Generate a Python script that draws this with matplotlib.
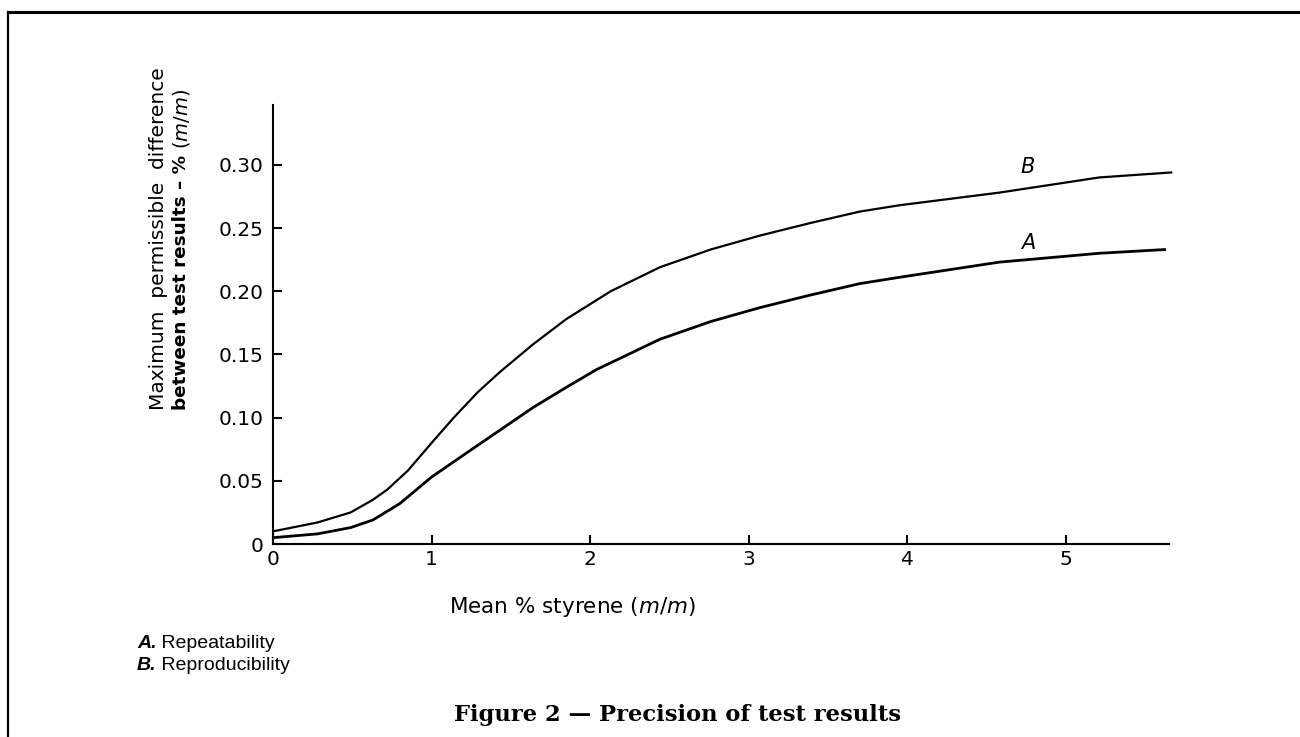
import matplotlib
matplotlib.use("Agg")
import matplotlib.pyplot as plt
from matplotlib.lines import Line2D

# ---- data ----
B_x = [0, 0.28, 0.49, 0.63, 0.72, 0.85, 1.0, 1.14, 1.29, 1.43, 1.64, 1.85, 2.13,
       2.44, 2.76, 3.07, 3.39, 3.70, 3.95, 4.58, 5.21, 5.67]
B_y = [0.010, 0.017, 0.025, 0.035, 0.043, 0.058, 0.080, 0.100, 0.120, 0.136, 0.158,
       0.178, 0.200, 0.219, 0.233, 0.244, 0.254, 0.263, 0.268, 0.278, 0.290, 0.294]
A_x = [0, 0.28, 0.49, 0.63, 0.80, 1.0, 1.22, 1.43, 1.64, 1.85, 2.04, 2.44, 2.76,
       3.07, 3.39, 3.70, 3.95, 4.58, 5.21, 5.63]
A_y = [0.005, 0.008, 0.013, 0.019, 0.032, 0.053, 0.072, 0.090, 0.108, 0.124, 0.138,
       0.162, 0.176, 0.187, 0.197, 0.206, 0.211, 0.223, 0.230, 0.233]
x_ticks = [0, 1, 2, 3, 4, 5]
x_ticklabels = ["0", "1", "2", "3", "4", "5"]
y_ticks = [0, 0.05, 0.10, 0.15, 0.20, 0.25, 0.30]
y_ticklabels = ["0", "0.05", "0.10", "0.15", "0.20", "0.25", "0.30"]
curve_labels = ["A", "B"]
legend_items = [("A.", "Repeatability"), ("B.", "Reproducibility")]
x_label = r"Mean % styrene ($m$/$m$)"
y_label1 = "Maximum  permissible  difference"
y_label2_bold = "between test results \u2013 %"
y_label2_rest = r" ($m$/$m$)"
title = "Figure 2 \u2014 Precision of test results"

W, H = 1300, 737
fig = plt.figure(figsize=(W / 100, H / 100), dpi=100)

def fx(px):
    return px / W

def fy(py):
    return 1 - py / H

ax = fig.add_axes([fx(273), fy(544), fx(1169 - 273), (544 - 105) / H])
ax.plot(B_x, B_y, color="black", lw=1.6, clip_on=False, solid_capstyle="butt",
        solid_joinstyle="round")
ax.plot(A_x, A_y, color="black", lw=2.0, clip_on=False, solid_capstyle="butt",
        solid_joinstyle="round")
ax.set_xlim(0, (1169 - 273) / 158.6)
ax.set_ylim(0, (544 - 105) / 1264)

for s in ["top", "right"]:
    ax.spines[s].set_visible(False)
for s in ["left", "bottom"]:
    ax.spines[s].set_linewidth(1.5)

ax.set_xticks(x_ticks)
ax.set_xticklabels(x_ticklabels)
ax.set_yticks(y_ticks)
ax.set_yticklabels(y_ticklabels)
ax.tick_params(axis="both", direction="in", length=6.5, width=1.5, labelsize=14.5)
ax.tick_params(axis="x", pad=4)
ax.tick_params(axis="y", pad=7)

# curve labels
ax.text(4.76, 0.298, curve_labels[1], style="italic", fontsize=15, ha="center", va="center")
ax.text(4.76, 0.238, curve_labels[0], style="italic", fontsize=15, ha="center", va="center")

# x label
fig.text(fx(572), fy(607), x_label, fontsize=15.5, ha="center", va="center")

# y label (two lines, rotated)
fig.text(fx(158), fy(410), y_label1, fontsize=14.5, rotation=90, ha="center", va="bottom")
t2 = fig.text(fx(181), fy(410), y_label2_bold, fontsize=13.2, fontweight="bold",
              rotation=90, ha="center", va="bottom")
ax.annotate(y_label2_rest, xy=(0.5, 1.0), xycoords=t2, fontsize=14, rotation=90,
            ha="center", va="bottom", annotation_clip=False)

# legend-like notes
for i, (key, desc) in enumerate(legend_items):
    yk = fy(644 + 22 * i)
    tk = fig.text(fx(137), yk, key, fontsize=14, style="italic", fontweight="bold",
                  family="Liberation Sans", ha="left", va="center")
    ax.annotate(" " + desc, xy=(1.0, 0.5), xycoords=tk, fontsize=14,
                family="Liberation Sans", ha="left", va="center", annotation_clip=False)

# title
fig.text(fx(677), fy(715), title, fontsize=16.3, fontweight="bold", family="DejaVu Serif",
         ha="center", va="center")

# frame
fig.add_artist(Line2D([fx(8), fx(1300)], [fy(12), fy(12)], color="black", lw=2.2,
                      transform=fig.transFigure))
fig.add_artist(Line2D([fx(8), fx(8)], [fy(12), fy(737)], color="black", lw=1.6,
                      transform=fig.transFigure))

fig.savefig("out.png", dpi=100)
